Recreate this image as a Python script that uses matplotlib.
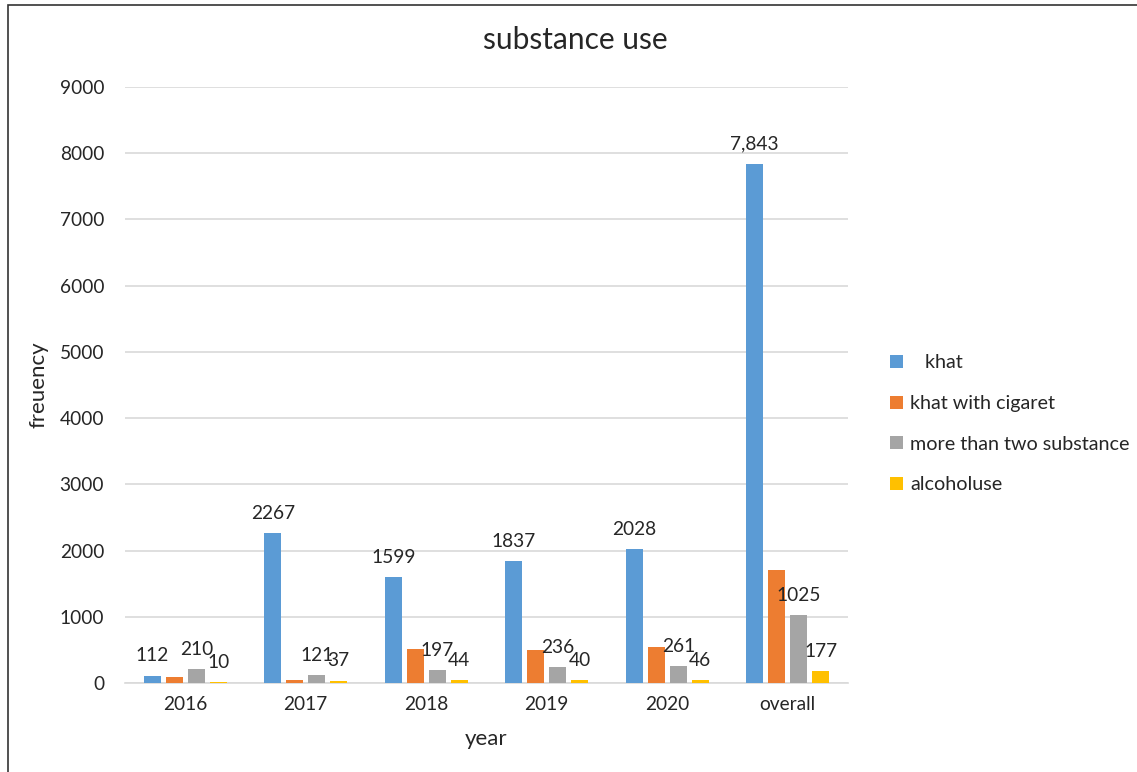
import matplotlib
matplotlib.use("Agg")
import matplotlib.pyplot as plt
import numpy as np
from matplotlib.patches import Rectangle

plt.rcParams['font.family'] = ['Lato', 'DejaVu Sans']

categories = ["2016", "2017", "2018", "2019", "2020", "overall"]
khat = [112, 2267, 1599, 1837, 2028, 7843]
khat_cig = [90, 45, 518, 498, 548, 1707]
more_two = [210, 121, 197, 236, 261, 1025]
alcohol = [10, 37, 44, 40, 46, 177]
series_names = ["   khat", "khat with cigaret", "more than two substance", "alcoholuse"]
khat_labels = ["112", "2267", "1599", "1837", "2028", "7,843"]

colors = ["#5B9BD5", "#ED7D31", "#A5A5A5", "#FFC000"]
series = [khat, khat_cig, more_two, alcohol]

fig = plt.figure(figsize=(11.37, 7.72), dpi=100)
ax = fig.add_axes([125/1137, 1-683/772, 723/1137, (683-87)/772])

x = np.arange(len(categories))
pitch = 0.1826
width = 0.141
txtc = "#262626"
for i, (vals, col, name) in enumerate(zip(series, colors, series_names)):
    bars = ax.bar(x + (i-1.5)*pitch, vals, width, color=col, label=name, zorder=3)
    if i == 0:
        ax.bar_label(bars, labels=khat_labels, padding=8, fontsize=13.8, color=txtc)
    elif i in (2, 3):
        ax.bar_label(bars, padding=8, fontsize=13.8, color=txtc)

ax.set_xlim(-0.5, len(categories)-0.5)
ax.set_ylim(0, 9000)
ax.set_yticks(np.arange(0, 9001, 1000))
ax.set_xticks(x)
ax.set_xticklabels(categories)
ax.tick_params(axis='both', length=0, labelsize=13.8, colors=txtc)
ax.tick_params(axis='y', pad=15)
ax.tick_params(axis='x', pad=9)
ax.yaxis.grid(True, color="#D9D9D9", linewidth=1.2, zorder=0)
for s in ["top", "right", "left"]:
    ax.spines[s].set_visible(False)
ax.spines["bottom"].set_color("#D9D9D9")
ax.spines["bottom"].set_linewidth(1.2)
ax.set_axisbelow(True)

ax.set_ylabel("freuency", fontsize=16, color=txtc, labelpad=8)
ax.set_xlabel("year", fontsize=16, color=txtc, labelpad=12)
fig.text(575/1137, 1-40/772, "substance use", ha="center", va="center", fontsize=21.5, color=txtc)

leg = ax.legend(loc="center left", bbox_to_anchor=(872/1137, 1-424/772), bbox_transform=fig.transFigure,
                frameon=False, fontsize=14.2, handlelength=0.65, handleheight=0.65,
                labelspacing=1.2, handletextpad=0.4, labelcolor=txtc)

fig.patches.append(Rectangle((8/1137, -0.05), 1.2, 1-5/772+0.05, transform=fig.transFigure,
                             fill=False, edgecolor="#333333", linewidth=1.2, zorder=10))

fig.savefig("out.png", dpi=100)
